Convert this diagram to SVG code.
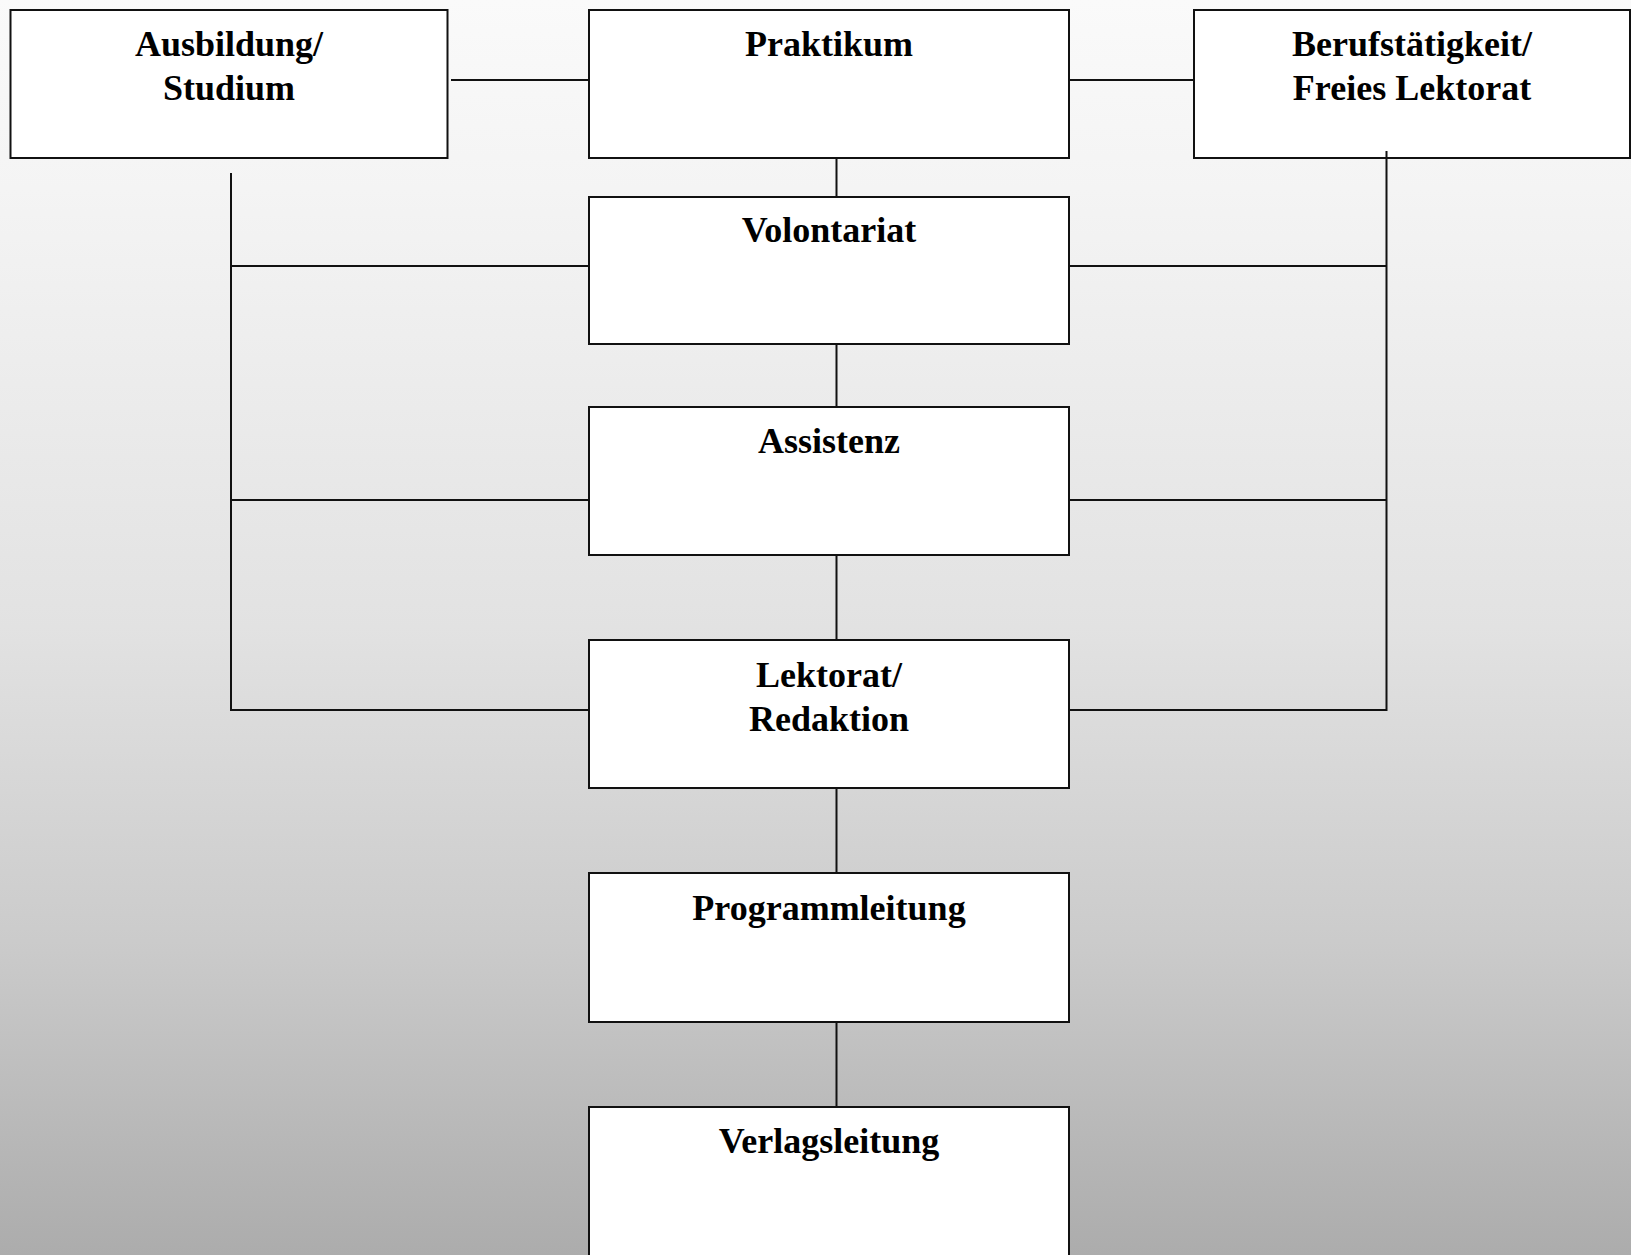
<svg xmlns="http://www.w3.org/2000/svg" width="1631" height="1255" viewBox="0 0 1631 1255">
<defs>
<linearGradient id="bg" x1="0" y1="0" x2="0" y2="1">
<stop offset="0" stop-color="#fafafa"/>
<stop offset="0.15" stop-color="#f4f4f4"/>
<stop offset="0.5" stop-color="#e2e2e2"/>
<stop offset="0.75" stop-color="#cbcbcb"/>
<stop offset="1" stop-color="#acacac"/>
</linearGradient>
</defs>
<style>
.box{fill:#ffffff;stroke:#111111;stroke-width:2}
.lbl{font-family:"Liberation Serif","Times New Roman",serif;font-weight:bold;font-size:36px;fill:#000000;text-anchor:middle}
.con{stroke:#111111;stroke-width:2;fill:none}
</style>
<rect x="0" y="0" width="1631" height="1255" fill="url(#bg)"/>
<g id="ausbildung">
<rect class="box" x="10.5" y="10" width="437" height="148"/>
<text class="lbl" x="229" y="56">Ausbildung/</text>
<text class="lbl" x="229" y="100">Studium</text>
</g>
<g id="praktikum">
<rect class="box" x="589" y="10" width="480" height="148"/>
<text class="lbl" x="829" y="56">Praktikum</text>
</g>
<g id="berufstaetigkeit">
<rect class="box" x="1194" y="10" width="436" height="148"/>
<text class="lbl" x="1412" y="56">Berufstätigkeit/</text>
<text class="lbl" x="1412" y="100">Freies Lektorat</text>
</g>
<g id="volontariat">
<rect class="box" x="589" y="197" width="480" height="147"/>
<text class="lbl" x="829" y="242">Volontariat</text>
</g>
<g id="assistenz">
<rect class="box" x="589" y="407" width="480" height="148"/>
<text class="lbl" x="829" y="453">Assistenz</text>
</g>
<g id="lektorat">
<rect class="box" x="589" y="640" width="480" height="148"/>
<text class="lbl" x="829" y="687">Lektorat/</text>
<text class="lbl" x="829" y="731">Redaktion</text>
</g>
<g id="programmleitung">
<rect class="box" x="589" y="873" width="480" height="149"/>
<text class="lbl" x="829" y="920">Programmleitung</text>
</g>
<g id="verlagsleitung">
<rect class="box" x="589" y="1107" width="480" height="149"/>
<text class="lbl" x="829" y="1153">Verlagsleitung</text>
</g>
<g id="connectors">
<line class="con" x1="451" y1="80" x2="589" y2="80"/>
<line class="con" x1="1069" y1="80" x2="1194" y2="80"/>
<line class="con" x1="836.5" y1="158" x2="836.5" y2="197"/>
<line class="con" x1="836.5" y1="344" x2="836.5" y2="407"/>
<line class="con" x1="836.5" y1="555" x2="836.5" y2="640"/>
<line class="con" x1="836.5" y1="788" x2="836.5" y2="873"/>
<line class="con" x1="836.5" y1="1022" x2="836.5" y2="1107"/>
<polyline class="con" points="231,173 231,710 589,710"/>
<line class="con" x1="231" y1="266" x2="589" y2="266"/>
<line class="con" x1="231" y1="500" x2="589" y2="500"/>
<polyline class="con" points="1386.5,151 1386.5,710 1069,710"/>
<line class="con" x1="1069" y1="266" x2="1386.5" y2="266"/>
<line class="con" x1="1069" y1="500" x2="1386.5" y2="500"/>
</g>
</svg>
